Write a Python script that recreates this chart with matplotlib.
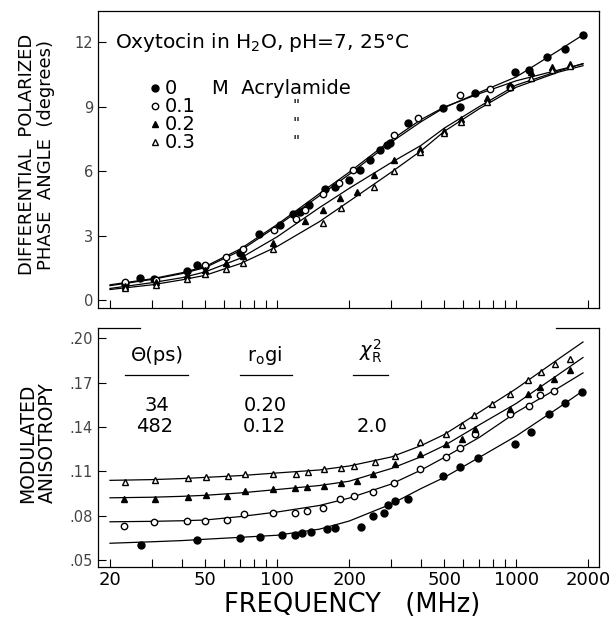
import numpy as np
import matplotlib.pyplot as plt
from matplotlib.lines import Line2D

plt.rcParams['font.family'] = ['DejaVu Sans']

# ---------------- data ----------------
freq_ticks = [20, 30, 40, 50, 60, 70, 80, 90, 100, 200, 300, 400, 500,
              600, 700, 800, 900, 1000, 2000]
freq_labels = [20, 50, 100, 200, 500, 1000, 2000]
conc_labels = ['0', '0.1', '0.2', '0.3']

# top panel: differential phase angle (degrees), fitted curves
curve_f = [20, 30, 40, 50, 70, 100, 150, 200, 300, 400, 500, 700, 1000, 1500, 1900]
phase_fit_0 = [0.68, 0.97, 1.24, 1.52, 2.30, 3.45, 4.85, 5.85, 7.35, 8.30, 8.95, 9.66, 10.38, 11.60, 12.33]
phase_fit_1 = [0.72, 1.00, 1.28, 1.57, 2.38, 3.52, 4.95, 5.95, 7.45, 8.40, 8.98, 9.60, 10.20, 10.70, 10.98]
phase_fit_2 = [0.55, 0.82, 1.05, 1.32, 1.95, 2.95, 4.30, 5.20, 6.40, 7.20, 8.00, 9.00, 10.00, 10.65, 11.00]
phase_fit_3 = [0.50, 0.72, 0.95, 1.16, 1.70, 2.50, 3.65, 4.60, 5.95, 6.95, 7.85, 8.90, 9.90, 10.60, 10.90]

# top panel: measured points
phase_f_0 = [23, 26.7, 30.6, 42, 46, 50, 70, 84, 103, 117, 124, 136, 159, 175, 199, 222,
             245, 270, 288, 297, 354, 494, 583, 673, 943, 990, 1130, 1342, 1598, 1893]
phase_v_0 = [0.78, 1.04, 1.00, 1.36, 1.63, 1.58, 2.20, 3.07, 3.50, 4.00, 4.10, 4.42, 5.15, 5.27,
             5.58, 6.05, 6.54, 6.98, 7.21, 7.32, 8.22, 8.92, 8.96, 9.64, 9.92, 10.59, 10.70,
             11.32, 11.67, 12.33]
phase_f_1 = [23, 31, 50, 61, 72, 97, 120, 131, 156, 181, 207, 308, 388, 580, 778]
phase_v_1 = [0.85, 0.96, 1.63, 2.01, 2.40, 3.26, 3.80, 4.19, 4.95, 5.46, 6.05, 7.67, 8.48, 9.55, 9.80]
phase_f_2 = [23, 31, 42, 50, 61, 72, 96, 131, 155, 183, 215, 254, 307, 394, 499, 586, 757,
             937, 1148, 1414, 1671]
phase_v_2 = [0.65, 0.85, 1.16, 1.43, 1.73, 2.05, 2.67, 3.70, 4.20, 4.73, 5.04, 5.81, 6.50,
             7.05, 7.86, 8.40, 9.38, 10.00, 10.62, 10.85, 11.00]
phase_f_3 = [23, 31, 42, 50, 61, 72, 96, 155, 184, 253, 307, 394, 499, 586, 757, 937, 1148,
             1414, 1671]
phase_v_3 = [0.59, 0.70, 1.01, 1.21, 1.47, 1.73, 2.36, 3.60, 4.31, 5.27, 6.00, 6.90, 7.75,
             8.30, 9.20, 9.90, 10.35, 10.70, 10.90]

# bottom panel: modulated anisotropy, fitted curves
aniso_fit_0 = [0.0615, 0.0625, 0.0633, 0.0642, 0.0655, 0.0669, 0.0710, 0.0765, 0.0880, 0.0985, 0.1060, 0.1195, 0.1340, 0.1530, 0.1645]
aniso_fit_1 = [0.0760, 0.0763, 0.0767, 0.0772, 0.0795, 0.0826, 0.0870, 0.0920, 0.1015, 0.1110, 0.1195, 0.1330, 0.1500, 0.1665, 0.1766]
aniso_fit_2 = [0.0922, 0.0926, 0.0932, 0.0939, 0.0955, 0.0978, 0.1005, 0.1034, 0.1120, 0.1200, 0.1275, 0.1415, 0.1560, 0.1755, 0.1870]
aniso_fit_3 = [0.1040, 0.1045, 0.1052, 0.1060, 0.1072, 0.1090, 0.1110, 0.1137, 0.1198, 0.1275, 0.1350, 0.1500, 0.1660, 0.1860, 0.1975]

# bottom panel: measured points
aniso_f_0 = [26.9, 46.1, 70.0, 84.8, 104.6, 118.9, 126.8, 138.3, 161.3, 174.8, 224.4, 251.4,
             278.4, 292, 311.6, 354, 493, 583, 689, 990, 1151, 1364, 1602, 1882]
aniso_v_0 = [0.0601, 0.0635, 0.0649, 0.0657, 0.0674, 0.0669, 0.0685, 0.0691, 0.0709, 0.0721,
             0.0725, 0.0797, 0.0816, 0.0872, 0.0901, 0.0917, 0.1068, 0.1128, 0.1194, 0.1289,
             0.1367, 0.1486, 0.1563, 0.1637]
aniso_f_1 = [22.9, 30.6, 42.1, 49.9, 61.6, 73.0, 95.9, 118.9, 133.8, 156.1, 183.4, 209.9,
             251.4, 308.6, 393.8, 507.8, 583, 673.5, 943, 1125, 1251, 1441]
aniso_v_1 = [0.0730, 0.0761, 0.0766, 0.0766, 0.0770, 0.0811, 0.0822, 0.0822, 0.0836, 0.0853,
             0.0914, 0.0932, 0.0959, 0.1022, 0.1120, 0.1198, 0.1261, 0.1351, 0.1491, 0.1545,
             0.1615, 0.1647]
aniso_f_2 = [22.9, 30.9, 42.5, 50.4, 61.6, 73.4, 95.9, 118.9, 133.8, 157.6, 184.6, 215.4,
             252.8, 311.6, 396.5, 507.8, 592.5, 673.5, 937, 1114, 1259, 1441, 1671]
aniso_v_2 = [0.0917, 0.0917, 0.0928, 0.0939, 0.0935, 0.0968, 0.0984, 0.0991, 0.0995, 0.1002,
             0.1025, 0.1034, 0.1081, 0.1153, 0.1216, 0.1289, 0.1322, 0.1390, 0.1525, 0.1626,
             0.1671, 0.1728, 0.1784]
aniso_f_3 = [23.1, 30.9, 42.5, 50.4, 62.2, 73.4, 96.5, 120, 135.1, 157.6, 184.6, 209.9, 257,
             311.6, 396.5, 507.8, 592.5, 666.8, 790.8, 943.6, 1114, 1268, 1456, 1682]
aniso_v_3 = [0.1029, 0.1045, 0.1056, 0.1063, 0.1072, 0.1081, 0.1086, 0.1081, 0.1097, 0.1120,
             0.1126, 0.1135, 0.1164, 0.1203, 0.1299, 0.1351, 0.1417, 0.1480, 0.1554, 0.1626,
             0.1721, 0.1772, 0.1829, 0.1863]

# marker styles: filled circle, open circle, filled triangle, open triangle
styles = [dict(marker='o', mfc='black', mec='black', ms=5.0),
          dict(marker='o', mfc='white', mec='black', ms=4.6, mew=1.0),
          dict(marker='^', mfc='black', mec='black', ms=4.6),
          dict(marker='^', mfc='white', mec='black', ms=4.6, mew=1.0)]

fig = plt.figure(figsize=(6.12, 6.24), dpi=100)
ax1 = fig.add_axes([0.160, 0.506, 0.819, 0.476])
ax2 = fig.add_axes([0.160, 0.091, 0.819, 0.383])

# ---------------- top panel ----------------
for fit in [phase_fit_0, phase_fit_1, phase_fit_2, phase_fit_3]:
    ax1.plot(curve_f, fit, color='black', lw=0.9)
for f, v, st in zip([phase_f_0, phase_f_1, phase_f_2, phase_f_3],
                    [phase_v_0, phase_v_1, phase_v_2, phase_v_3], styles):
    ax1.plot(f, v, ls='none', **st)

ax1.set_xscale('log')
ax1.set_xlim(17.8, 2220)
ax1.set_ylim(-0.37, 13.43)
ax1.set_yticks([0, 3, 6, 9, 12])
ax1.set_xticks(freq_ticks)
ax1.set_xticklabels([])
ax1.xaxis.set_minor_locator(plt.NullLocator())
ax1.tick_params(axis='both', direction='in', length=6, width=0.8, labelsize=10.5,
                labelcolor='#444444', top=False, right=False)
for s in ax1.spines.values():
    s.set_linewidth(0.9)

ax1.text(0.034, 0.896, 'Oxytocin in H$_2$O, pH=7, 25°C', transform=ax1.transAxes,
         fontsize=14.5, va='center', ha='left')
leg_y = [0.741, 0.680, 0.620, 0.559]
for i, (lab, st, yy) in enumerate(zip(conc_labels, styles, leg_y)):
    ax1.plot([0.114], [yy], transform=ax1.transAxes, ls='none', **st)
    ax1.text(0.134, yy, lab, transform=ax1.transAxes, fontsize=14, va='center')
    if i == 0:
        ax1.text(0.228, yy, 'M  Acrylamide', transform=ax1.transAxes, fontsize=14,
                 va='center')
    else:
        ax1.text(0.389, yy, '"', transform=ax1.transAxes, fontsize=11, va='center')

# ---------------- bottom panel ----------------
for fit in [aniso_fit_0, aniso_fit_1, aniso_fit_2, aniso_fit_3]:
    ax2.plot(curve_f, fit, color='black', lw=0.9)
for f, v, st in zip([aniso_f_0, aniso_f_1, aniso_f_2, aniso_f_3],
                    [aniso_v_0, aniso_v_1, aniso_v_2, aniso_v_3], styles):
    ax2.plot(f, v, ls='none', **st)

ax2.set_xscale('log')
ax2.set_xlim(17.8, 2220)
ax2.set_ylim(0.0453, 0.2068)
yt = [0.05, 0.08, 0.11, 0.14, 0.17, 0.20]
ax2.set_yticks(yt)
ax2.set_yticklabels(['.%02d' % round(v * 100) for v in yt])
ax2.set_xticks(freq_ticks)
ax2.set_xticklabels([str(t) if t in freq_labels else '' for t in freq_ticks])
ax2.xaxis.set_minor_locator(plt.NullLocator())
ax2.tick_params(axis='y', direction='in', length=6, width=0.8, labelsize=10.5,
                labelcolor='#444444')
ax2.tick_params(axis='x', direction='in', length=6, width=0.8, labelsize=13, pad=3)
for s in ax2.spines.values():
    s.set_linewidth(0.9)
ax2.spines['top'].set_visible(False)
# broken top frame
ax2.add_line(Line2D([0, 0.084], [1, 1], transform=ax2.transAxes, color='black',
                    lw=0.9, clip_on=False))
ax2.add_line(Line2D([0.914, 1], [1, 1], transform=ax2.transAxes, color='black',
                    lw=0.9, clip_on=False))

hdr = dict(transform=ax2.transAxes, fontsize=14, ha='center', va='center')
ax2.text(0.118, 0.887, 'Θ(ps)', **hdr)
ax2.text(0.333, 0.887, 'r$_\\mathrm{o}$gi', **hdr)
ax2.text(0.545, 0.905, '$\\chi^2_\\mathrm{R}$', **hdr)
for x0, x1 in [(0.054, 0.180), (0.283, 0.387), (0.509, 0.579)]:
    ax2.add_line(Line2D([x0, x1], [0.806, 0.806], transform=ax2.transAxes,
                        color='black', lw=0.9))
ax2.text(0.118, 0.678, '34', **hdr)
ax2.text(0.114, 0.590, '482', **hdr)
ax2.text(0.333, 0.678, '0.20', **hdr)
ax2.text(0.333, 0.590, '0.12', **hdr)
ax2.text(0.547, 0.590, '2.0', **hdr)

# ---------------- axis titles ----------------
fig.text(0.060, 0.752, 'DIFFERENTIAL  POLARIZED\nPHASE  ANGLE  (degrees)',
         rotation=90, ha='center', va='center', fontsize=13, linespacing=1.05)
fig.text(0.062, 0.290, 'MODULATED\nANISOTROPY', rotation=90, ha='center',
         va='center', fontsize=13.5, linespacing=1.05)
fig.text(0.575, 0.031, 'FREQUENCY   (MHz)', ha='center', va='center', fontsize=18.5)

fig.savefig('out.png', dpi=100)
